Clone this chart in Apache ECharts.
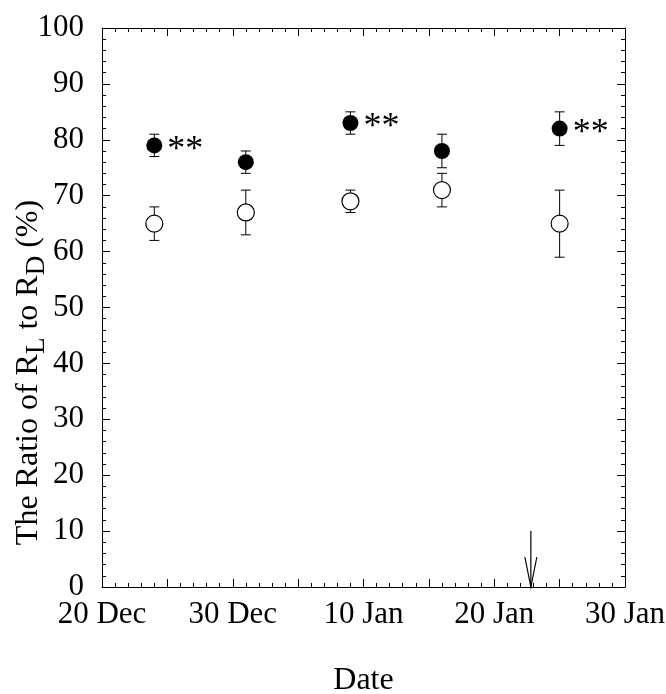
<!DOCTYPE html>
<html lang="en">
<head>
    <meta charset="UTF-8">
    <title>Ratio of RL to RD</title>
    <script src="https://cdn.jsdelivr.net/npm/echarts@6/dist/echarts.min.js"></script>
    <style>
        body{
            margin: 0;
            background-color: #ffffff
        }
    </style>
</head>
<body>
<div id="main" style="width: 666px;height: 694px;"></div>
<script type="text/javascript">
    // days after 20 Dec
    var days = [4, 11, 19, 26, 35];
    var tickLabels = ['20 Dec', '30 Dec', '10 Jan', '20 Jan', '30 Jan'];
    // filled circles
    var filledMean = [79, 76, 83, 78, 82];
    var filledErr = [2, 2, 2, 3, 3];
    var filledSig = ['**', '', '**', '', '**'];
    // open circles
    var openMean = [65, 67, 69, 71, 65];
    var openErr = [3, 4, 2, 3, 6];
    // arrow on the date axis
    var arrowDay = 32.8;
    var arrowTop = 10;

    var serif = 'Liberation Serif';
    var myChart = echarts.init(document.getElementById('main'));

    var filledData = [], openData = [], errData = [];
    for (var i = 0; i < days.length; i++) {
        filledData.push([days[i], filledMean[i], filledSig[i]]);
        openData.push([days[i], openMean[i]]);
        errData.push([days[i], filledMean[i] - filledErr[i], filledMean[i] + filledErr[i]]);
        errData.push([days[i], openMean[i] - openErr[i], openMean[i] + openErr[i]]);
    }

    function errBar(params, api) {
        var x = api.value(0);
        var lo = api.coord([x, api.value(1)]);
        var hi = api.coord([x, api.value(2)]);
        var w = 5;
        var st = {stroke: '#000', lineWidth: 1, fill: 'none'};
        return {
            type: 'group',
            children: [
                {type: 'line', shape: {x1: lo[0], y1: lo[1], x2: hi[0], y2: hi[1]}, style: st},
                {type: 'line', shape: {x1: lo[0] - w, y1: lo[1], x2: lo[0] + w, y2: lo[1]}, style: st},
                {type: 'line', shape: {x1: hi[0] - w, y1: hi[1], x2: hi[0] + w, y2: hi[1]}, style: st}
            ]
        };
    }

    function arrow(params, api) {
        var top = api.coord([api.value(0), api.value(1)]);
        var tip = api.coord([api.value(0), 0]);
        var st = {stroke: '#000', lineWidth: 1.2, fill: 'none'};
        return {
            type: 'group',
            children: [
                {type: 'line', shape: {x1: top[0], y1: top[1], x2: tip[0], y2: tip[1]}, style: st},
                {type: 'polyline', shape: {points: [[tip[0] - 6, tip[1] - 30], [tip[0], tip[1]], [tip[0] + 6, tip[1] - 30]]}, style: st}
            ]
        };
    }

    var xBase = {
        type: 'value',
        min: 0,
        max: 40,
        interval: 5,
        axisLine: {show: true, onZero: false, lineStyle: {color: '#000', width: 1}},
        axisTick: {show: true, inside: true, length: 8, lineStyle: {color: '#000'}},
        minorTick: {show: true, splitNumber: 5, length: 4, lineStyle: {color: '#000'}},
        splitLine: {show: false}
    };
    var yBase = {
        type: 'value',
        min: 0,
        max: 100,
        interval: 10,
        axisLine: {show: true, onZero: false, lineStyle: {color: '#000', width: 1}},
        axisTick: {show: true, inside: true, length: 8, lineStyle: {color: '#000'}},
        minorTick: {show: true, splitNumber: 5, length: 4, lineStyle: {color: '#000'}},
        splitLine: {show: false}
    };

    var option = {
        backgroundColor: '#fff',
        animation: false,
        grid: {left: 102, right: 41, top: 28, bottom: 107, containLabel: false, outerBoundsMode: 'none'},
        xAxis: [
            Object.assign({}, xBase, {
                position: 'bottom',
                name: 'Date',
                nameLocation: 'middle',
                nameGap: 78,
                nameMoveOverlap: false,
                nameTextStyle: {fontFamily: serif, fontSize: 32, color: '#000'},
                axisLabel: {
                    margin: 12,
                    fontFamily: serif,
                    fontSize: 31,
                    color: '#000',
                    formatter: function (v) {
                        return v % 10 === 0 ? tickLabels[v / 10] : '';
                    }
                }
            }),
            Object.assign({}, xBase, {position: 'top', axisLabel: {show: false}})
        ],
        yAxis: [
            Object.assign({}, yBase, {
                position: 'left',
                name: '{n|The Ratio of R}{s|L}{n| to R}{s|D}{n| (%)}',
                nameLocation: 'middle',
                nameRotate: 90,
                nameGap: 52,
                nameMoveOverlap: false,
                nameTextStyle: {
                    padding: [0, 130, 0, 0],
                    rich: {
                        n: {fontFamily: serif, fontSize: 32, color: '#000'},
                        s: {fontFamily: serif, fontSize: 27, color: '#000', padding: [16, 0, 0, 0]}
                    }
                },
                axisLabel: {margin: 18, fontFamily: serif, fontSize: 31, color: '#000'}
            }),
            Object.assign({}, yBase, {position: 'right', axisLabel: {show: false}})
        ],
        series: [
            {
                type: 'custom',
                renderItem: errBar,
                data: errData,
                z: 1,
                silent: true
            },
            {
                type: 'scatter',
                data: openData,
                symbol: 'circle',
                symbolSize: 17,
                itemStyle: {color: '#fff', borderColor: '#000', borderWidth: 1.2, opacity: 1},
                z: 3
            },
            {
                type: 'scatter',
                data: filledData,
                symbol: 'circle',
                symbolSize: 16,
                itemStyle: {color: '#000', opacity: 1},
                label: {
                    show: true,
                    position: 'right',
                    distance: 5,
                    offset: [0, 5],
                    fontFamily: serif,
                    fontSize: 36,
                    color: '#000',
                    formatter: function (p) { return p.value[2]; }
                },
                z: 3
            },
            {
                type: 'custom',
                renderItem: arrow,
                data: [[arrowDay, arrowTop]],
                z: 2,
                silent: true
            }
        ]
    };
    myChart.setOption(option);
</script>
</body>
</html>
